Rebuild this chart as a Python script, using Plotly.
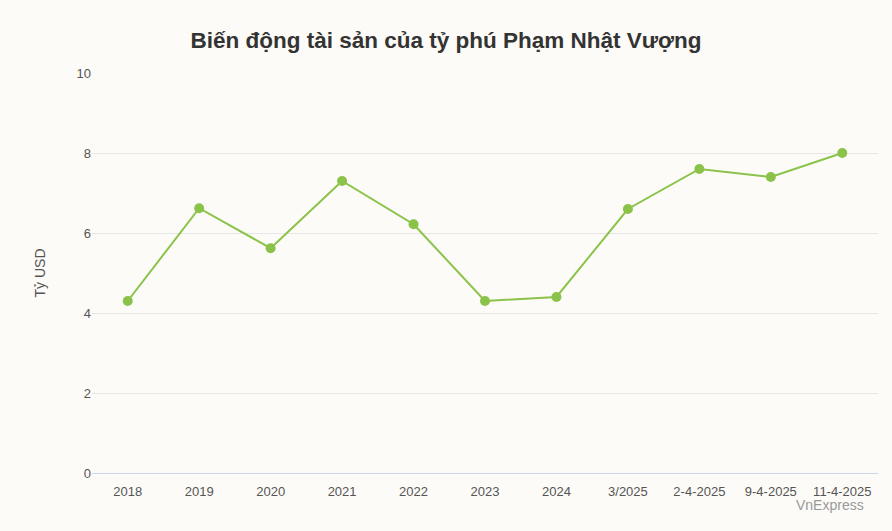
import plotly.graph_objects as go

categories = ["2018","2019","2020","2021","2022","2023","2024","3/2025","2-4-2025","9-4-2025","11-4-2025"]
values = [4.3, 6.62, 5.62, 7.3, 6.22, 4.3, 4.4, 6.6, 7.6, 7.4, 8.0]

fig = go.Figure(go.Scatter(
    x=categories, y=values, mode="lines+markers",
    line=dict(color="#8bc34a", width=2), marker=dict(color="#8bc34a", size=10),
    hoverinfo="x+y"))

fig.update_layout(
    width=892, height=531,
    paper_bgcolor="#fcfbf7", plot_bgcolor="#fcfbf7",
    margin=dict(l=92, r=14, t=73, b=58),
    title=dict(text="<b>Biến động tài sản của tỷ phú Phạm Nhật Vượng</b>", x=0.5, xanchor="center",
               y=0.925, yanchor="middle", font=dict(family="Liberation Sans, Arial", size=22.5, color="#333")),
    font=dict(family="Liberation Sans, Arial", size=13, color="#555"),
    showlegend=False,
    xaxis=dict(type="category", showgrid=False, showline=True, linecolor="#ccd6eb", ticks="",
               ticklabelstandoff=6,
               tickfont=dict(size=13, color="#555"), range=[-0.5, 10.5]),
    yaxis=dict(range=[0, 10], dtick=2, gridcolor="#e6e6e6", zeroline=False,
               title=dict(text="Tỷ USD", font=dict(size=14, color="#555"), standoff=27),
               tickfont=dict(size=13, color="#555")),
    annotations=[dict(text="VnExpress", xref="paper", yref="paper", x=0.985, y=-0.055,
                      xanchor="right", yanchor="top", showarrow=False,
                      font=dict(size=14, color="#999"))],
)
fig.write_html("out.html", config={"displayModeBar": False},
               post_script="document.body.style.margin='0';document.body.style.background='#fcfbf7';")
